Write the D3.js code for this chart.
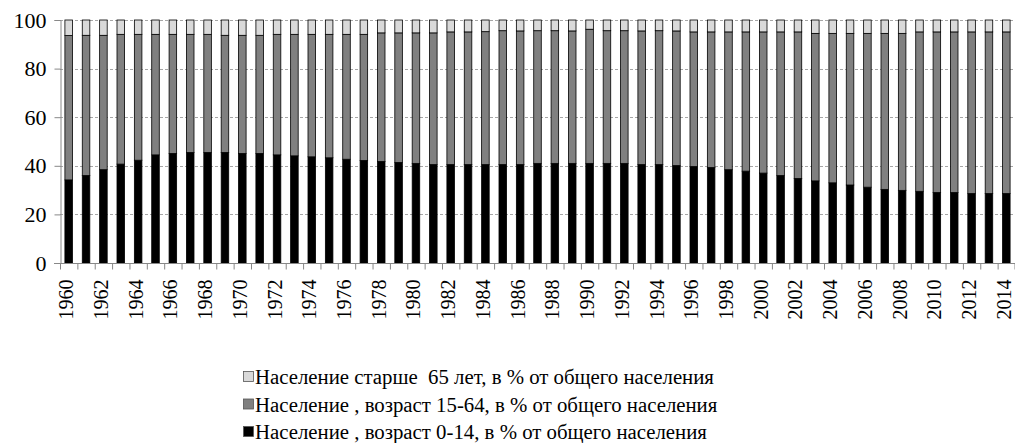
<!DOCTYPE html>
<html>
<head>
<meta charset="utf-8">
<script src="https://cdn.jsdelivr.net/npm/d3@7"></script>
<style>
  html, body { margin: 0; padding: 0; background: #fff; }
  svg { display: block; }
</style>
</head>
<body>
<svg id="chart" width="1015" height="443"></svg>
<script>
const years = d3.range(1960, 2015).map(String);
const yTicks = [0, 20, 40, 60, 80, 100];

const age0_14 = [34.2,36.0,38.4,40.7,42.3,44.5,45.1,45.5,45.5,45.5,45.1,45.1,44.5,44.1,43.7,43.3,42.7,
  42.2,41.8,41.4,41.0,40.5,40.5,40.5,40.5,40.5,40.5,41.0,41.0,41.0,41.0,41.0,41.0,40.5,40.5,40.1,
  39.7,39.3,38.4,37.8,37.0,36.0,34.8,33.8,33.0,32.1,31.2,30.3,29.9,29.5,29.0,29.0,28.6,28.6,28.6];
const age15_64 = [59.4,57.7,55.3,53.4,51.8,49.6,49.0,48.6,48.6,48.2,48.6,48.6,49.6,50.0,50.4,50.8,51.4,
  51.9,52.9,53.3,53.7,54.2,54.6,54.6,54.7,55.1,55.0,54.6,54.6,54.5,55.2,54.6,54.6,55.0,55.1,55.4,
  55.4,55.8,56.7,57.3,58.1,59.1,60.3,60.7,61.5,62.4,63.3,64.2,64.6,65.6,66.1,66.1,66.5,66.5,66.5];
const age65 = [6.4,6.3,6.3,5.9,5.9,5.9,5.9,5.9,5.9,6.3,6.3,6.3,5.9,5.9,5.9,5.9,5.9,
  5.9,5.3,5.3,5.3,5.3,4.9,4.9,4.8,4.4,4.5,4.4,4.4,4.5,3.8,4.4,4.4,4.5,4.4,4.5,
  4.9,4.9,4.9,4.9,4.9,4.9,4.9,5.5,5.5,5.5,5.5,5.5,5.5,4.9,4.9,4.9,4.9,4.9,4.9];

const seriesKeys = ["a0", "a15", "a65"];
const seriesColors = { a0: "#000000", a15: "#808080", a65: "#d9d9d9" };
const legendItems = [
  { key: "a65", label: "Население старше  65 лет, в % от общего населения" },
  { key: "a15", label: "Население , возраст 15-64, в % от общего населения" },
  { key: "a0",  label: "Население , возраст 0-14, в % от общего населения" }
];

const FONT = '"Liberation Serif", "Times New Roman", Tinos, serif';
const table = years.map((yr, i) => ({ year: yr, a0: age0_14[i], a15: age15_64[i], a65: age65[i] }));

const svg = d3.select("#chart");
const pLeft = 60, pRight = 1015, pTop = 20, pBottom = 263;

const x = d3.scaleBand().domain(years).range([pLeft, pRight]).paddingInner(0.565).paddingOuter(0.2825);
const xb = d3.scaleBand().domain(years).range([pLeft, pRight]);
const y = d3.scaleLinear().domain([0, 100]).range([pBottom, pTop]);

// grid
svg.append("g").selectAll("line").data(yTicks.filter(d => d > 0)).join("line")
  .attr("x1", pLeft).attr("x2", pRight)
  .attr("y1", d => Math.round(y(d)) + 0.5).attr("y2", d => Math.round(y(d)) + 0.5)
  .attr("stroke", "#a6a6a6").attr("stroke-width", 1).attr("stroke-dasharray", "3,2");

// bars
const stack = d3.stack().keys(seriesKeys)(table);
svg.append("g").selectAll("g").data(stack).join("g")
  .attr("fill", d => seriesColors[d.key])
  .selectAll("rect").data(d => d).join("rect")
  .attr("x", d => x(d.data.year))
  .attr("width", x.bandwidth())
  .attr("y", d => y(d[1]))
  .attr("height", d => y(d[0]) - y(d[1]))
  .attr("stroke", "#000").attr("stroke-width", 0.8);

// y axis
const yAxis = svg.append("g").attr("transform", `translate(${pLeft + 0.5},0)`)
  .call(d3.axisLeft(y).tickValues(yTicks).tickSize(6).tickPadding(8));
yAxis.select(".domain").attr("stroke", "#888");
yAxis.selectAll(".tick line").attr("stroke", "#888");
yAxis.selectAll("text").style("font-family", FONT).style("font-size", "22px").attr("fill", "#000");

// x axis
const xg = svg.append("g").attr("transform", `translate(0,${pBottom + 0.5})`);
xg.append("line").attr("x1", pLeft - 6).attr("x2", pRight).attr("stroke", "#888");
xg.selectAll("line.t").data(years.concat(["end"])).join("line").attr("class", "t")
  .attr("x1", d => (d === "end" ? pRight - 0.5 : xb(d)) + 0.5)
  .attr("x2", d => (d === "end" ? pRight - 0.5 : xb(d)) + 0.5)
  .attr("y1", 0).attr("y2", 6).attr("stroke", "#888");
xg.selectAll("text").data(years.filter((d, i) => i % 2 === 0)).join("text")
  .attr("transform", d => `translate(${xb(d) + xb.bandwidth() / 2 + 4.5},${16}) rotate(-90)`)
  .attr("text-anchor", "end")
  .style("font-family", FONT).style("font-size", "20px")
  .text(d => d);

// legend
const lg = svg.append("g");
legendItems.forEach((it, i) => {
  const by = 384 + i * 27.5;
  lg.append("rect").attr("x", 243.5).attr("y", by - 12.5).attr("width", 10).attr("height", 10)
    .attr("fill", seriesColors[it.key]).attr("stroke", "#555").attr("stroke-width", 0.8);
  lg.append("text").attr("x", 255).attr("y", by)
    .style("font-family", FONT).style("font-size", "20.8px")
    .style("white-space", "pre").text(it.label);
});
</script>
</body>
</html>
